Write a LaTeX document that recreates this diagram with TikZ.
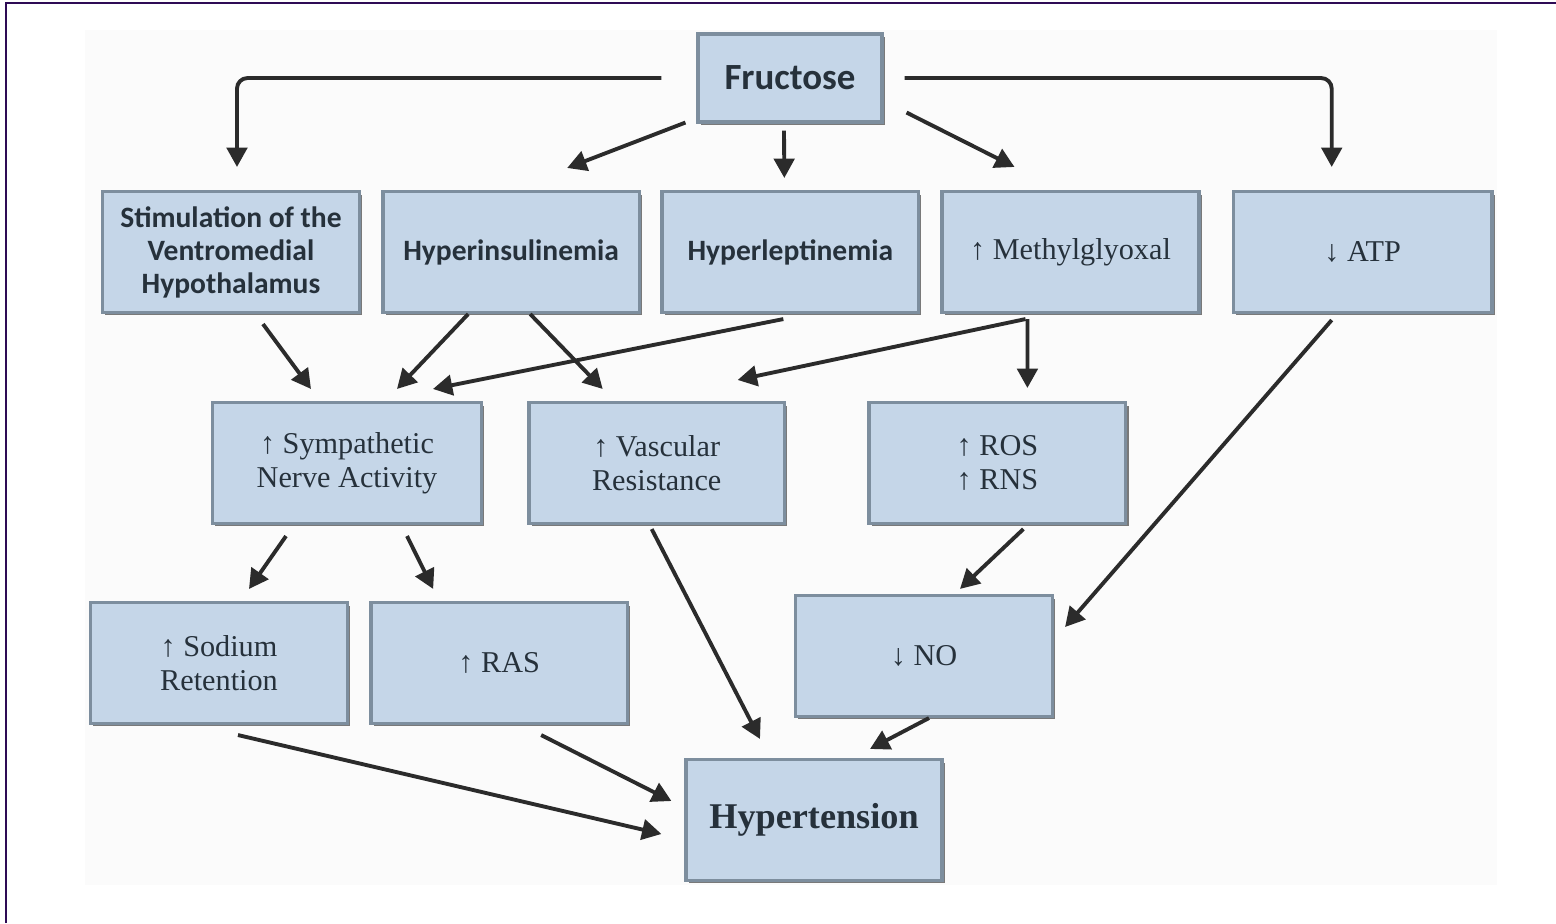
\documentclass[tikz,border=0pt]{standalone}
\usepackage{fontspec}
\setmainfont{Liberation Serif}
\newfontfamily\carlito{Carlito}
\usetikzlibrary{positioning, arrows.meta, shadows}
\definecolor{boxfill}{HTML}{C5D6E8}
\definecolor{boxline}{HTML}{7D8E9E}
\definecolor{arrowgray}{HTML}{2B2B2B}
\definecolor{textgray}{HTML}{26313B}
\definecolor{framepurple}{HTML}{2E0B55}

\begin{document}
\begin{tikzpicture}[x=0.01cm, y=-0.01cm,
		bluebox/.style={rectangle, draw=boxline, line width=1pt, fill=boxfill, text=textgray, inner sep=0pt, minimum width=2.565cm, minimum height=1.205cm, align=center, drop shadow={shadow xshift=0.8pt, shadow yshift=-0.8pt, fill=black!65, opacity=0.8}},
		sansb/.style={bluebox, font=\carlito\bfseries\fontsize{8.4}{9.4}\selectfont},
		serifb/.style={bluebox, font=\fontsize{8.6}{9.7}\selectfont},
		arr/.style={-{Triangle[length=5.5pt, width=5.8pt]}, line width=1.1pt, draw=arrowgray},
		>=Triangle
	]
	\useasboundingbox (0,0) rectangle (1556,923);
	\fill[black!1.5] (85,30) rectangle (1497,885);
	\draw[framepurple, line width=0.02cm] (6,923) -- (6,3) -- (1556,3);

	% top
	\node[sansb, minimum width=1.835cm, minimum height=0.875cm, font=\carlito\bfseries\fontsize{10.5}{12}\selectfont] (fruct) at (790,78) {Fructose};

	% second row
	\node[sansb] (stim) at (231,252) {Stimulation of the\\Ventromedial\\Hypothalamus};
	\node[sansb, right=0.2cm of stim] (hins) {Hyperinsulinemia};
	\node[sansb, right=0.19cm of hins] (hlep) {Hyperleptinemia};
	\node[serifb, right=0.2cm of hlep] (mgo) {↑ Methylglyoxal};
	\node[serifb, right=0.31cm of mgo, minimum width=2.585cm] (atp) {↓ ATP};

	% third row
	\node[serifb, minimum width=2.685cm] (sna) at (347,463) {↑ Sympathetic\\Nerve Activity};
	\node[serifb, right=0.44cm of sna, minimum width=2.555cm] (vres) {↑ Vascular\\Resistance};
	\node[serifb, right=0.81cm of vres] (ros) {↑ ROS\\↑ RNS};

	% fourth row
	\node[serifb] (sod) at (219,663) {↑ Sodium\\Retention};
	\node[serifb, right=0.2cm of sod] (ras) {↑ RAS};
	\node[serifb] (no) at (924,656) {↓ NO};

	\node[serifb, minimum width=2.555cm, font=\bfseries\fontsize{10.3}{12}\selectfont] (hyp) at (814,820) {Hypertension};

	% elbows from fructose
	\draw[arr, rounded corners=3pt, shorten <=0.35cm, shorten >=0.23cm] (fruct.west) -| ([shift={(6,0)}]stim.north);
	\draw[arr, rounded corners=3pt, shorten <=0.21cm, shorten >=0.23cm] (fruct.east) -| ([shift={(-31,0)}]atp.north);

	% straight arrows
	\foreach \a/\sx/\sy/\b/\ex/\ey in {
		fruct.south west/-11/-1/hins.north/56/-22,
		fruct.south/-6/7/hlep.north/-6/-12,
		fruct.south east/23/-11/mgo.north/-56/-23,
		stim.south/32/10/sna.north/-36/-12,
		hins.south/-43/0/sna.north/50/-12,
		hins.south/19/0/vres.north/-54/-12,
		hlep.south/-7/5/sna.north/86/-12,
		mgo.south/-45/5/vres.north/81/-21,
		mgo.south/-43/5/ros.north/30/-13,
		atp.south/-31/6/no.east/11/-29,
		sna.south/-61/11/sod.north/30/-12,
		sna.south/60/11/ras.north/-66/-12,
		vres.south/-5/4/hyp.north/-54/-19,
		ros.south/26/4/no.north/36/-5,
		sod.south/19/10/hyp.west/-23/14,
		ras.south/42/10/hyp.west/-13/-19,
		no.south/5/0/hyp.north/56/-9}
		\draw[arr] ([shift={(\sx,\sy)}]\a) -- ([shift={(\ex,\ey)}]\b);

\end{tikzpicture}
\end{document}
